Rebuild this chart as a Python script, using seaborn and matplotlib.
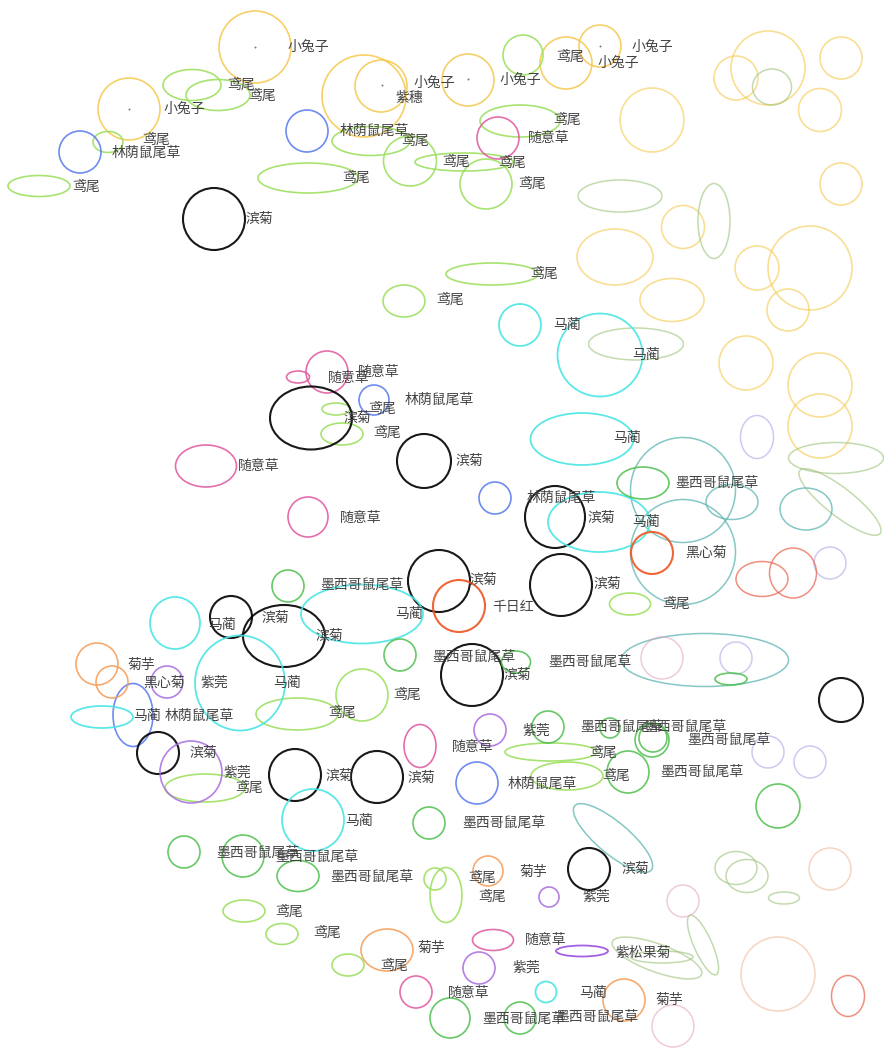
import numpy as np
import pandas as pd
import matplotlib
matplotlib.use("Agg")
import matplotlib.pyplot as plt
from matplotlib.patches import Ellipse
import seaborn as sns

#Ellipse data: centre, width, height, angle, group
ell_x = [255,129,364,381,468,566,600,
         652,736,768,841,820,841,683,615,757,810,788,672,746,820,820,
         772,620,714,636,836,840,736,747,784,703,657,662,
         757,830,736,768,810,
         683,683,732,806,705,613,
         762,793,848,830,778,662,683,673,
         192,218,108,39,371,410,464,308,523,520,486,492,404,336,342,630,297,362,205,551,567,244,282,348,435,446,
         80,307,374,495,133,477,
         498,327,298,206,308,420,493,416,
         214,311,424,555,439,561,231,284,472,841,158,295,377,589,
         520,600,582,599,175,362,240,102,313,546,
         643,288,400,516,731,548,610,652,653,628,778,429,184,243,298,450,520,
         459,652,97,112,488,387,624,
         167,191,490,549,479,582]
ell_y = [47,109,96,86,80,63,46,
         120,78,68,58,110,184,227,257,268,268,310,300,363,385,426,
         87,196,221,344,458,502,868,876,898,945,958,957,
         437,563,658,752,762,
         490,552,502,509,660,838,
         579,573,996,869,974,658,901,1026,
         85,95,142,186,141,161,162,178,55,121,184,274,301,409,434,604,714,695,788,752,776,911,934,965,879,895,
         152,131,400,498,715,783,
         138,372,377,466,517,746,940,992,
         219,418,461,517,581,585,617,636,675,700,753,775,777,869,
         325,355,439,522,623,614,683,717,820,992,
         483,586,655,662,679,727,728,740,738,772,806,823,852,856,876,1018,1018,
         606,553,664,682,871,950,1000,
         682,772,730,897,968,951]
ell_w = [72,62,84,52,52,52,42,
         64,44,74,42,43,42,43,76,44,84,42,64,54,64,64,
         39,84,32,95,95,102,42,42,31,65,95,62,
         33,32,32,32,32,
         105,105,52,52,167,100,
         52,47,33,42,74,42,32,42,
         58,64,30,62,78,53,98,100,40,80,52,92,42,28,42,41,82,52,80,92,72,42,32,32,22,32,
         42,42,30,32,40,42,
         42,42,23,61,40,32,41,32,
         62,82,54,60,62,62,42,82,62,44,42,52,52,42,
         42,85,103,102,50,122,90,62,62,21,
         52,32,32,29,32,32,20,34,28,42,44,32,32,42,42,40,32,
         52,42,42,32,30,52,42,
         32,62,32,20,32,52]
ell_h = [72,62,82,52,52,52,42,
         64,44,74,42,43,42,43,56,44,84,42,43,54,64,64,
         36,32,75,32,31,28,33,33,12,18,28,12,
         43,32,32,32,32,
         105,105,35,42,53,32,
         35,50,41,42,74,42,32,42,
         31,31,21,21,29,50,18,30,40,32,50,22,32,12,22,22,32,52,28,18,28,22,21,22,22,55,
         42,42,30,32,63,42,
         42,42,12,42,40,43,21,32,
         62,63,54,62,62,62,42,62,62,44,42,52,52,42,
         42,83,52,60,52,59,95,22,62,21,
         32,32,32,22,12,32,20,34,28,42,44,32,32,42,31,40,32,
         52,42,42,32,30,42,42,
         32,62,32,20,32,11]
ell_ang = [0]*len(ell_x)
ell_ang[ell_x.index(840)] = 38
ell_ang[ell_x.index(703)] = 66
ell_ang[ell_x.index(657)] = 20
ell_ang[ell_x.index(613)] = 40
ell_grp = (["gold"]*7 + ["gold2"]*15 + ["sage"]*12 + ["lavender"]*5 + ["teal"]*6
           + ["salmon"]*3 + ["peach"]*2 + ["pinkfade"]*3
           + ["lightgreen"]*26 + ["blue"]*6 + ["pink"]*8 + ["black"]*14
           + ["cyan"]*10 + ["green"]*17 + ["orangered"]*2 + ["orange"]*5
           + ["purple"]*5 + ["purple2"])

#Centre dots of the 小兔子 circles
dot_x = [255,129,382,468,600]
dot_y = [47,109,85,79,46]

#Labels: text, left x, centre y
lab_text = ["小兔子","鸢尾","鸢尾","小兔子","鸢尾","林荫鼠尾草","鸢尾","滨菊","小兔子","紫穗",
            "林荫鼠尾草","鸢尾","鸢尾","鸢尾","鸢尾","鸢尾","小兔子","鸢尾","小兔子","小兔子",
            "鸢尾","随意草","鸢尾","鸢尾","马蔺","马蔺","随意草","随意草","林荫鼠尾草","鸢尾",
            "滨菊","鸢尾","滨菊","随意草","马蔺","随意草","墨西哥鼠尾草","林荫鼠尾草","滨菊","马蔺",
            "黑心菊","墨西哥鼠尾草","滨菊","千日红","滨菊","鸢尾","马蔺","滨菊","滨菊","马蔺",
            "墨西哥鼠尾草","墨西哥鼠尾草","滨菊","菊芋","黑心菊","紫莞","马蔺","鸢尾","马蔺","林荫鼠尾草",
            "鸢尾","紫莞","墨西哥鼠尾草","墨西哥鼠尾草","墨西哥鼠尾草","随意草","鸢尾","滨菊","紫莞","鸢尾",
            "滨菊","滨菊","鸢尾","墨西哥鼠尾草","林荫鼠尾草","马蔺","墨西哥鼠尾草","墨西哥鼠尾草","墨西哥鼠尾草","墨西哥鼠尾草",
            "滨菊","菊芋","鸢尾","鸢尾","紫莞","鸢尾","鸢尾","菊芋","随意草","紫松果菊",
            "鸢尾","紫莞","随意草","马蔺","菊芋","墨西哥鼠尾草","墨西哥鼠尾草"]
lab_x = [287,227,248,163,142,112,72,245,414,395,
         340,401,442,498,518,342,500,556,632,598,
         553,528,530,436,553,632,328,358,405,368,
         343,373,455,238,613,340,675,527,587,632,
         685,320,470,492,593,662,208,262,315,395,
         432,548,503,128,143,200,273,393,133,165,
         328,522,580,643,687,452,589,190,223,235,
         326,408,602,660,508,345,462,216,275,330,
         621,520,468,478,582,275,313,418,525,615,
         380,512,448,579,656,482,555]
lab_y = [47,85,96,109,140,153,187,219,83,98,
         131,141,162,163,184,178,80,57,47,63,
         120,138,274,300,325,355,378,372,400,409,
         418,433,461,466,438,518,483,498,518,522,
         553,585,580,607,584,604,625,618,636,614,
         657,662,675,665,683,683,683,695,716,716,
         713,731,727,727,740,747,753,753,773,788,
         776,778,776,772,784,821,823,853,857,877,
         869,872,878,897,897,912,933,948,940,953,
         966,968,993,993,1000,1019,1017]

group_style = {
    "gold": ("#F5C84C", 0.85, 1.2), "gold2": ("#F5C84C", 0.6, 1.2),
    "sage": ("#9CC27A", 0.6, 1.1), "lavender": ("#A9A9E8", 0.6, 1.1),
    "teal": ("#5BB5B0", 0.75, 1.1), "salmon": ("#E8604A", 0.7, 1.1),
    "peach": ("#F0B898", 0.6, 1.1), "pinkfade": ("#E0A0C0", 0.55, 1.1),
    "lightgreen": ("#9EE060", 0.9, 1.2), "blue": ("#5577EE", 0.85, 1.2),
    "pink": ("#E0559E", 0.85, 1.2), "black": ("#000000", 0.9, 1.5),
    "cyan": ("#4AE5E5", 0.9, 1.3), "green": ("#4CBF4C", 0.85, 1.2),
    "orangered": ("#EE5522", 0.9, 1.5), "orange": ("#F59B55", 0.85, 1.2),
    "purple": ("#A66BE0", 0.85, 1.2), "purple2": ("#9A4FE0", 0.9, 1.3),
}

sns.set_style("white")
plt.rcParams['font.family'] = ['Noto Sans CJK SC', 'DejaVu Sans']

fig = plt.figure(figsize=(8.84, 10.49), dpi=100)
ax = fig.add_axes([0, 0, 1, 1])
ax.set_xlim(0, 884)
ax.set_ylim(1049, 0)
ax.axis('off')

for x, y, w, h, a, g in zip(ell_x, ell_y, ell_w, ell_h, ell_ang, ell_grp):
    c, al, lw = group_style[g]
    ax.add_patch(Ellipse((x, y), w, h, angle=a, fill=False, edgecolor=c, alpha=al, linewidth=lw))

dots = pd.DataFrame({"x": dot_x, "y": dot_y})
sns.scatterplot(data=dots, x="x", y="y", ax=ax, color="#777777", s=2, linewidth=0, legend=False)

for t, x, y in zip(lab_text, lab_x, lab_y):
    ax.text(x, y, t, fontsize=10, color="#444444", ha="left", va="center")

ax.set_xlim(0, 884)
ax.set_ylim(1049, 0)
ax.axis('off')
fig.savefig("out.png", dpi=100)
